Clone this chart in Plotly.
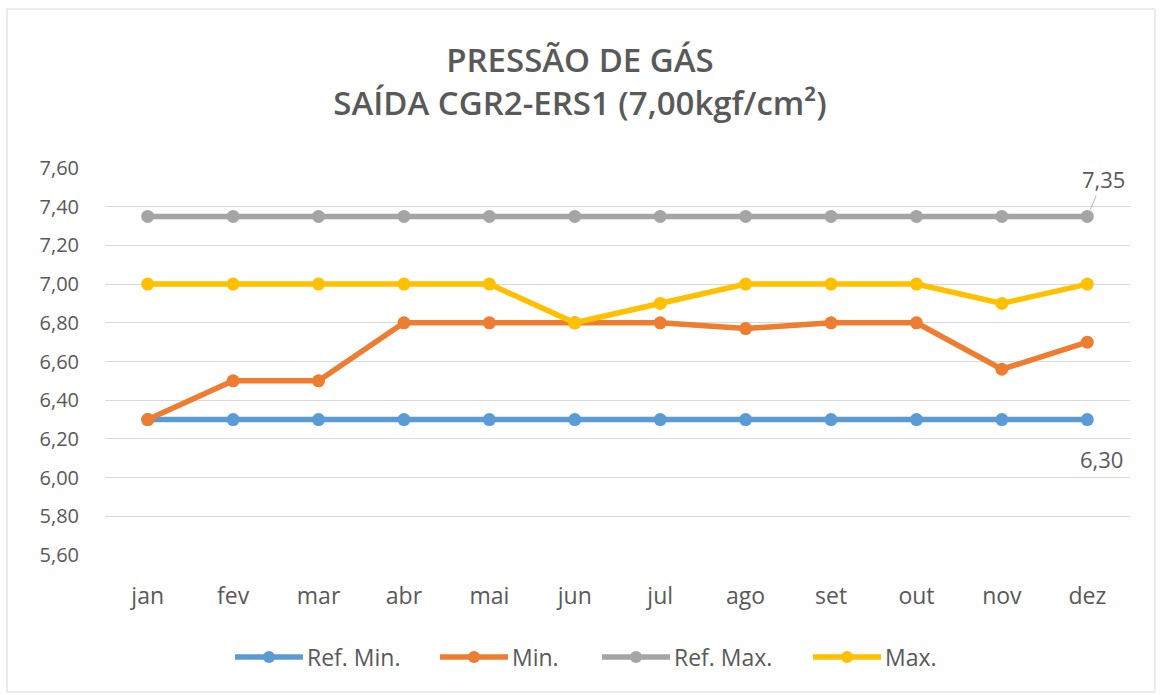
import plotly.graph_objects as go

months = ["jan", "fev", "mar", "abr", "mai", "jun", "jul", "ago", "set", "out", "nov", "dez"]
ref_min = [6.30] * 12
min_vals = [6.30, 6.50, 6.50, 6.80, 6.80, 6.80, 6.80, 6.77, 6.80, 6.80, 6.56, 6.70]
ref_max = [7.35] * 12
max_vals = [7.00, 7.00, 7.00, 7.00, 7.00, 6.80, 6.90, 7.00, 7.00, 7.00, 6.90, 7.00]
y_ticks = [5.6, 5.8, 6.0, 6.2, 6.4, 6.6, 6.8, 7.0, 7.2, 7.4, 7.6]
series_names = ["Ref. Min.", "Min.", "Ref. Max.", "Max."]
series_colors = ["#5B9BD5", "#ED7D31", "#A5A5A5", "#FFC000"]
series_values = [ref_min, min_vals, ref_max, max_vals]

FONT = "Open Sans"
TXT = "#595959"
W, H = 1160, 695
L, R, T, B = 105, 30, 168, 140
PW, PH = W - L - R, H - T - B


def px(x):
    return (x - L) / PW


def py(y):
    return (H - B - y) / PH


fig = go.Figure()
for name, vals, col in zip(series_names, series_values, series_colors):
    fig.add_trace(go.Scatter(
        x=months, y=vals, name=name, mode="lines+markers",
        line=dict(color=col, width=5.5),
        marker=dict(color=col, size=13),
        showlegend=False,
    ))

# data labels on the last point of the reference series
fig.add_annotation(
    x=months[-1], y=ref_max[-1], xref="x", yref="y",
    text="7,35", showarrow=True, arrowhead=0, arrowwidth=0.8,
    arrowcolor="#a6a6a6", ax=16, ay=-37, standoff=7,
    font=dict(family=FONT, size=22, color=TXT),
)
fig.add_annotation(
    x=months[-1], y=ref_min[-1], xref="x", yref="y",
    text="6,30", showarrow=False, xshift=14, yshift=-39,
    font=dict(family=FONT, size=22, color=TXT),
)

# custom legend (long line symbols like the original)
legend_x = [235, 440, 602, 813]
legend_y = 657
for name, col, x0 in zip(series_names, series_colors, legend_x):
    fig.add_shape(type="line", xref="paper", yref="paper",
                  x0=px(x0), x1=px(x0 + 68), y0=py(legend_y), y1=py(legend_y),
                  line=dict(color=col, width=5.5))
    fig.add_shape(type="circle", xref="paper", yref="paper",
                  x0=px(x0 + 34 - 6), x1=px(x0 + 34 + 6),
                  y0=py(legend_y + 6), y1=py(legend_y - 6),
                  line=dict(color=col, width=0), fillcolor=col)
    fig.add_annotation(x=px(x0 + 70), y=py(legend_y), xref="paper", yref="paper",
                       text=name, showarrow=False, xanchor="left", yanchor="middle",
                       font=dict(family=FONT, size=23, color=TXT))

# chart border
fig.add_shape(
    type="rect", xref="paper", yref="paper",
    x0=px(7), x1=px(1155), y0=py(692), y1=py(9),
    line=dict(color="#d9d9d9", width=1), fillcolor="rgba(0,0,0,0)", layer="below",
)

fig.update_layout(
    width=W, height=H,
    margin=dict(l=L, r=R, t=T, b=B),
    paper_bgcolor="white", plot_bgcolor="white",
    separators=",.",
    title=dict(
        text="PRESSÃO DE GÁS<br>SAÍDA CGR2-ERS1 (7,00kgf/cm²)",
        x=0.5, xanchor="center", yref="container", y=1 - 72 / H, yanchor="middle",
        font=dict(family=FONT, size=33, color=TXT, weight=600),
    ),
    xaxis=dict(
        range=[-0.5, 11.5], showgrid=False, showline=False, zeroline=False,
        tickfont=dict(family=FONT, size=23, color=TXT), ticks="",
        ticklabelstandoff=25,
    ),
    yaxis=dict(
        range=[5.6, 7.6], tickvals=y_ticks, tickformat=".2f",
        showgrid=True, gridcolor="#d9d9d9", gridwidth=1, zeroline=False,
        showline=False, ticks="", ticklabelstandoff=25,
        tickfont=dict(family=FONT, size=20, color=TXT),
    ),
    showlegend=False,
)

fig.write_html("out.html", config={"displayModeBar": False},
               post_script="document.body.style.margin='0';")
